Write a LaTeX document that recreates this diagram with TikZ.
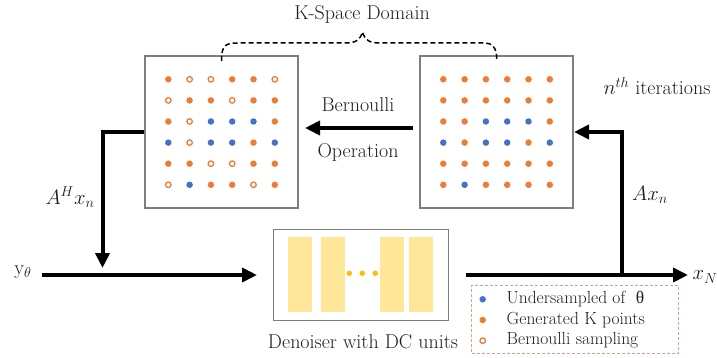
\documentclass[tikz,border=0pt]{standalone}
\usepackage{fontspec}
\usetikzlibrary{arrows.meta}
\newfontfamily\grkfont{Liberation Serif}

\definecolor{kOrange}{RGB}{237,125,49}
\definecolor{kBlue}{RGB}{68,114,196}
\definecolor{frameGray}{RGB}{127,127,127}
\definecolor{unitYellow}{RGB}{255,230,153}
\definecolor{unitGold}{RGB}{255,192,0}
\definecolor{legFrame}{RGB}{222,160,125}
\definecolor{inkText}{RGB}{30,30,30}

\tikzset{
  lbl/.style={font=\fontsize{20}{23}\selectfont, inner sep=0pt, text=inkText},
  leglbl/.style={font=\fontsize{17.5}{20}\selectfont, inner sep=0pt, anchor=west, text=inkText},
  kbox/.style={draw=frameGray, line width=2pt, minimum width=153pt, minimum height=152pt, inner sep=0pt},
  denbox/.style={draw=frameGray, line width=1.5pt, minimum width=175pt, minimum height=91pt, inner sep=0pt},
  unitbar/.style={fill=unitYellow, minimum width=23.4pt, minimum height=75pt, inner sep=0pt},
  golddot/.style={circle, fill=unitGold, minimum size=5.5pt, inner sep=0pt},
  doto/.style={circle, fill=kOrange, minimum size=6.5pt, inner sep=0pt},
  dotb/.style={circle, fill=kBlue, minimum size=6.5pt, inner sep=0pt},
  doth/.style={circle, draw=kOrange, fill=white, line width=1.3pt, minimum size=5.5pt, inner sep=0pt},
  flow/.style={line width=4pt, -{Triangle[length=15pt,width=14pt]}},
  bracepath/.style={line width=1.5pt, dash pattern=on 5pt off 3pt},
  legbox/.style={draw=legFrame, line width=1pt, dash pattern=on 3pt off 2pt, minimum width=206.6pt, minimum height=68.3pt, inner sep=0pt}
}

\begin{document}
\begin{tikzpicture}[x=1pt, y=-1pt]
\useasboundingbox (0,0) rectangle (717,358);

% k-space grids
\node[kbox] (lbox) at (221.5,132) {};
\node[kbox] (rbox) at (496.5,132) {};

% sampled grid (Bernoulli mask applied)
\foreach \row [count=\r] in {{o,h,h,o,o,h},{h,o,o,h,o,o},{o,h,b,b,b,o},{b,h,b,b,o,b},{o,o,h,h,o,o},{h,b,o,o,h,o}}{
  \foreach \c [count=\k] in \row {
    \node[dot\c] (l-\r-\k) at ({168.3+(\k-1)*21.3},{79.3+(\r-1)*21.1}) {};
  }
}
% generated grid
\foreach \row [count=\r] in {{o,o,o,o,o,o},{o,o,o,o,o,o},{o,o,b,b,b,o},{b,o,b,b,o,b},{o,o,o,o,o,o},{o,b,o,o,o,o}}{
  \foreach \c [count=\k] in \row {
    \node[dot\c] (r-\r-\k) at ({443.3+(\k-1)*21.3},{79.3+(\r-1)*21.1}) {};
  }
}

% domain brace
\node[lbl] (ksp) at (362,14) {K-Space Domain};
\coordinate (braceTip) at (362.5,32);
\draw[bracepath] ([yshift=-6pt]lbox.north) .. controls ++(0,-17) and (226,43) .. (240,43)
  -- (345,43) .. controls (356,43) and (360,40) .. (braceTip)
  .. controls (365,40) and (369,43) .. (380,43)
  -- (485,43) .. controls (499,43) and ([yshift=-6pt]rbox.north) .. ([yshift=-6pt]rbox.north);

% Bernoulli operation
\node[lbl] (bern) at (358,105) {Bernoulli};
\node[lbl] (oper) at (358,152) {Operation};
\draw[flow] ([xshift=-6pt,yshift=4pt]rbox.west) -- ([xshift=6pt,yshift=4pt]lbox.east);

% denoiser
\node[denbox] (den) at (360.8,275) {};
\node[unitbar] (u1) at (300,274.8) {};
\node[unitbar] (u2) at (333,274.8) {};
\node[unitbar] (u3) at (392,274.8) {};
\node[unitbar] (u4) at (421,274.2) {};
\node[golddot] (g1) at (349.3,273.3) {};
\node[golddot] (g2) at (362.3,273.3) {};
\node[golddot] (g3) at (375.3,273.3) {};
\node[lbl] (denlbl) at (363,342) {Denoiser with DC units};

% signal path
\node[lbl] (yth) at (23,272) {$\mathrm{y}_{\theta}$};
\coordinate (yStart) at (42,275);
\coordinate (inTip) at (257,275);
\draw[flow] (yStart) -- (inTip);

\coordinate (outTip) at (688,275);
\node[lbl] (xN) at (705,277) {$x_N$};
\draw[flow] ([xshift=17pt]den.east) -- (outTip);

% feedback loops
\coordinate (ahTip) at (102.5,268);
\draw[flow] (lbox.west) -| (ahTip);
\node[lbl] (ahx) at (70,197) {$A^H x_n$};

\coordinate (axBase) at (621.7,275);
\draw[flow] (axBase) |- (rbox.east);
\node[lbl] (axn) at (650,195) {$Ax_n$};
\node[lbl] (nth) at (657,86) {$n^{th}$ iterations};

% legend
\node[legbox] (leg) at (575,319.2) {};
\node[dotb] (ld1) at (482.7,299.3) {};
\node[doto] (ld2) at (482.7,320) {};
\node[doth] (ld3) at (482.7,340.7) {};
\node[leglbl] (lt1) at (506.5,299.3) {Undersampled of~ {\grkfont θ}};
\node[leglbl] (lt2) at (506.5,320) {Generated K points};
\node[leglbl] (lt3) at (506.5,340.7) {Bernoulli sampling};
\end{tikzpicture}
\end{document}
